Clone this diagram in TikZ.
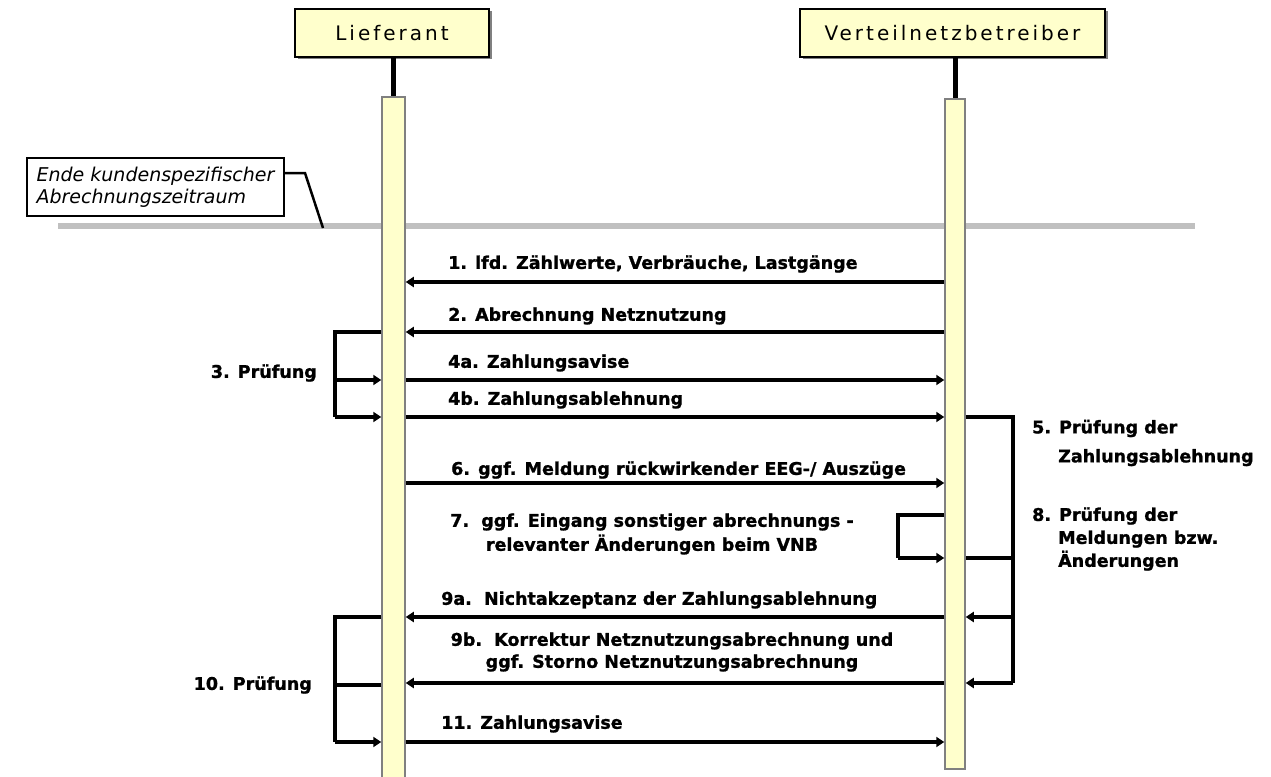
\documentclass[tikz,border=0pt]{standalone}
\usepackage{fontspec}
\setmainfont{DejaVu Sans}
\newfontfamily\titlefont[LetterSpace=15]{DejaVu Sans}
\newfontfamily\lblfont[FakeBold=1.2]{DejaVu Sans Bold}
\usetikzlibrary{arrows.meta,shadows}
\definecolor{barfill}{HTML}{FFFFCC}
\definecolor{bargray}{HTML}{808080}
\definecolor{sepgray}{HTML}{C0C0C0}
\begin{document}
\begin{tikzpicture}[x=1pt,y=-1pt,
  head/.style={draw=black,line width=1.5pt,fill=barfill,minimum width=#1,minimum height=48pt,inner sep=0pt,
     drop shadow={shadow xshift=2.5pt,shadow yshift=-2.5pt,fill=gray,opacity=1},
     font=\titlefont\fontsize{20}{24}\selectfont},
  bar/.style={draw=bargray,line width=1.5pt,fill=barfill,minimum width=#1,inner sep=0pt,anchor=north},
  lbl/.style={font=\lblfont\fontsize{17.5}{21}\selectfont,anchor=west,inner sep=0pt},
  msg/.style={line width=4pt,-{Triangle[length=8pt,width=10pt]}},
  plain/.style={line width=4pt},
  lifeline/.style={line width=5pt}]
\useasboundingbox (0,0) rectangle (1271,776);
\fill[white] (0,0) rectangle (1271,776);
% separator line
\draw[sepgray,line width=6pt] (58,226) -- (1195,226);
% headers
\node[head=194pt] (lief) at (392,33) {Lieferant};
\node[head=305pt] (vnb) at (952.5,33) {Verteilnetzbetreiber};
% activation bars
\node[bar=23pt,minimum height=684pt] (barL) at (393.5,96) {};
\node[bar=20pt,minimum height=670pt] (barR) at (955,98) {};
\draw[lifeline] (barL.north |- lief.south) -- (barL.north);
\draw[lifeline] (barR.north |- vnb.south) -- (barR.north);
% note
\node[draw=black,line width=1.5pt,fill=white,minimum width=257pt,minimum height=58pt,inner sep=0pt,
      align=left,font=\itshape\fontsize{19}{22}\selectfont] (note) at (155.5,187)
      {Ende kundenspezifischer\\Abrechnungszeitraum};
\coordinate (nk) at (305,173);
\coordinate (nt) at (323,228);
\draw[line width=2.5pt] (note.east |- nk) -- (nk) -- (nt);
% message rows
\coordinate (m1) at (0,282);
\coordinate (m2) at (0,332);
\coordinate (m4a) at (0,380);
\coordinate (m4b) at (0,417);
\coordinate (m6) at (0,483);
\coordinate (m7a) at (0,515);
\coordinate (m7b) at (0,558);
\coordinate (m9a) at (0,617);
\coordinate (m9b) at (0,683);
\coordinate (m10) at (0,685);
\coordinate (m11) at (0,742);
\draw[msg] (m1 -| barR.west) -- (m1 -| barL.east);
\draw[msg] (m2 -| barR.west) -- (m2 -| barL.east);
\draw[msg] (m4a -| barL.east) -- (m4a -| barR.west);
\draw[msg] (m4b -| barL.east) -- (m4b -| barR.west);
\draw[msg] (m6 -| barL.east) -- (m6 -| barR.west);
\draw[msg] (m9a -| barR.west) -- (m9a -| barL.east);
\draw[msg] (m9b -| barR.west) -- (m9b -| barL.east);
\draw[msg] (m11 -| barL.east) -- (m11 -| barR.west);
% loop 3 (left)
\coordinate (x3) at (335,0);
\draw[plain] (m2 -| barL.west) -- (m2 -| x3) -- (m4b -| x3);
\draw[msg] (m4b -| x3) -- (m4b -| barL.west);
\draw[msg] (m4a -| x3) -- (m4a -| barL.west);
% loop 10 (left)
\draw[plain] (m9a -| barL.west) -- (m9a -| x3) -- (m11 -| x3);
\draw[msg] (m11 -| x3) -- (m11 -| barL.west);
\draw[plain] (m10 -| barL.west) -- (m10 -| x3);
% loop 7 (right bar, left side)
\coordinate (x7) at (898,0);
\draw[plain] (m7a -| barR.west) -- (m7a -| x7) -- (m7b -| x7);
\draw[msg] (m7b -| x7) -- (m7b -| barR.west);
% loop 5/8 (right bar, right side)
\coordinate (x5) at (1013,0);
\draw[plain] (m4b -| barR.east) -- (m4b -| x5) -- (m9b -| x5);
\draw[plain] (m7b -| barR.east) -- (m7b -| x5);
\draw[msg] (m9a -| x5) -- (m9a -| barR.east);
\draw[msg] (m9b -| x5) -- (m9b -| barR.east);
% labels
\node[lbl] (t1) at (448,264) {1. lfd. Zählwerte, Verbräuche, Lastgänge};
\node[lbl] (t2) at (448,316) {2. Abrechnung Netznutzung};
\node[lbl,anchor=east] (t3) at (317,373) {3. Prüfung};
\node[lbl] (t4a) at (448,363) {4a. Zahlungsavise};
\node[lbl] (t4b) at (448,400) {4b. Zahlungsablehnung};
\node[lbl,align=left] (t5) at (1032,443) {5. Prüfung der\\[8pt]\hspace*{26pt}Zahlungsablehnung};
\node[lbl] (t6) at (451,470) {6. ggf. Meldung rückwirkender EEG-/ Auszüge};
\node[lbl,align=center,anchor=center] (t7) at (652,534) {7.\ \ ggf. Eingang sonstiger abrechnungs -\\[3pt]relevanter Änderungen beim VNB};
\node[lbl,align=left] (t8) at (1032,539) {8. Prüfung der\\[2pt]\hspace*{26pt}Meldungen bzw.\\[2pt]\hspace*{26pt}Änderungen};
\node[lbl] (t9a) at (441,600) {9a.\ \ Nichtakzeptanz der Zahlungsablehnung};
\node[lbl,align=center,anchor=center] (t9b) at (672,652) {9b.\ \ Korrektur Netznutzungsabrechnung und\\[1pt]ggf. Storno Netznutzungsabrechnung};
\node[lbl,anchor=east] (t10) at (312,685) {10. Prüfung};
\node[lbl] (t11) at (441,724) {11. Zahlungsavise};
\end{tikzpicture}
\end{document}
